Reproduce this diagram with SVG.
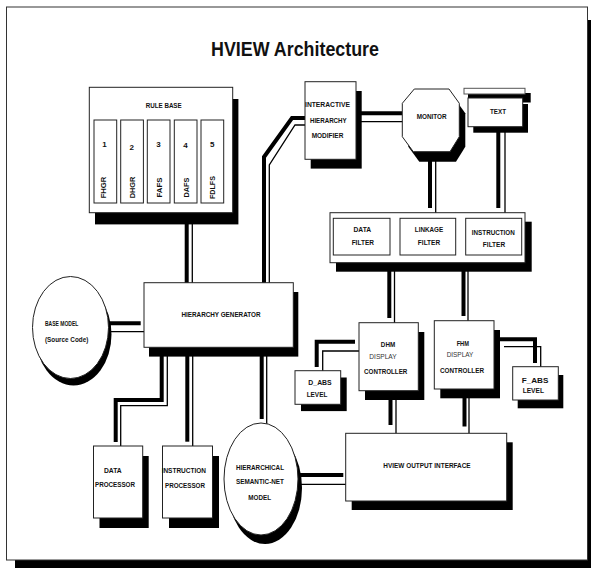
<svg xmlns="http://www.w3.org/2000/svg" width="591" height="568" viewBox="0 0 591 568">
<style>
.box{fill:#fff;stroke:#222;stroke-width:1}
.sh{fill:#000}
.t{font-family:"Liberation Sans Narrow","Liberation Sans",Arial,sans-serif;font-weight:bold;font-size:8px;fill:#111;text-anchor:middle}
.n{font-weight:normal;fill:#333}
.thick{fill:none;stroke:#000;stroke-width:4}
.thin{fill:none;stroke:#000;stroke-width:1.3}
</style>
<rect id="frame-shadow" x="15" y="20" width="581" height="553" fill="#000"/>
<rect id="frame" x="6.5" y="7" width="581" height="553" fill="#fff" stroke="#333" stroke-width="1"/>
<text x="295" y="56" class="t" style="font-size:20px" textLength="168" lengthAdjust="spacingAndGlyphs">HVIEW Architecture</text>

<g id="connectors">
  <line class="thick" x1="186.7" y1="212" x2="186.7" y2="283"/>
  <line class="thin" x1="192.3" y1="212" x2="192.3" y2="283"/>
  <polyline class="thick" points="305,118 292,118 264,157 264,283"/>
  <polyline class="thin" points="305,125 295,125 269.3,165 269.3,283"/>
  <line class="thick" x1="356" y1="113.3" x2="402" y2="113.3"/>
  <line class="thin" x1="356" y1="121.7" x2="403" y2="121.7"/>
  <line class="thick" x1="430" y1="151" x2="430" y2="208"/>
  <line class="thin" x1="435.7" y1="151" x2="435.7" y2="213"/>
  <line class="thick" x1="498.3" y1="127" x2="498.3" y2="208"/>
  <line class="thin" x1="505" y1="127" x2="505" y2="213"/>
  <line class="thick" x1="389.3" y1="262" x2="389.3" y2="318"/>
  <line class="thin" x1="394.5" y1="262" x2="394.5" y2="323"/>
  <line class="thick" x1="463.5" y1="262" x2="463.5" y2="316"/>
  <line class="thin" x1="468" y1="262" x2="468" y2="321"/>
  <polyline class="thick" points="355,341.7 316.7,341.7 316.7,367"/>
  <polyline class="thin" points="359,351 322.7,351 322.7,371"/>
  <polyline class="thick" points="494,339.3 535,339.3 535,363"/>
  <polyline class="thin" points="504,346.7 540.7,346.7 540.7,367"/>
  <line class="thick" x1="390.5" y1="398" x2="390.5" y2="425"/>
  <line class="thin" x1="396" y1="390" x2="396" y2="433.5"/>
  <line class="thick" x1="464.5" y1="396" x2="464.5" y2="426.5"/>
  <line class="thin" x1="469" y1="389" x2="469" y2="433.5"/>
  <line class="thick" x1="298" y1="475" x2="343.3" y2="475"/>
  <line class="thin" x1="298" y1="484.3" x2="346" y2="484.3"/>
  <line class="thick" x1="106" y1="323.3" x2="140.7" y2="323.3"/>
  <line class="thin" x1="106" y1="331.7" x2="144" y2="331.7"/>
  <polyline class="thick" points="161.7,347 161.7,400 115.7,400 115.7,442"/>
  <polyline class="thin" points="167.3,347 167.3,405.7 120.7,405.7 120.7,446"/>
  <line class="thick" x1="187.3" y1="347" x2="187.3" y2="441.7"/>
  <line class="thin" x1="192.7" y1="347" x2="192.7" y2="446"/>
  <line class="thick" x1="261.7" y1="347" x2="261.7" y2="419"/>
  <line class="thin" x1="266.7" y1="347" x2="266.7" y2="424"/>
</g>

<g id="rule-base">
  <rect class="sh" x="95" y="99" width="143.4" height="125.4"/>
  <rect class="box" x="89.3" y="87.3" width="143.4" height="125.4"/>
  <text x="163.7" y="108" class="t" textLength="36" lengthAdjust="spacingAndGlyphs">RULE BASE</text>
  <rect class="box" x="94" y="120" width="22.7" height="83"/>
  <rect class="box" x="120.7" y="120" width="22.7" height="83"/>
  <rect class="box" x="147.3" y="120" width="22.7" height="83"/>
  <rect class="box" x="174.3" y="120" width="22.7" height="83"/>
  <rect class="box" x="201" y="120" width="22.7" height="83"/>
  <text x="104.5" y="147" class="t">1</text>
  <text x="131.7" y="150" class="t">2</text>
  <text x="158.5" y="147" class="t">3</text>
  <text x="185.5" y="148" class="t">4</text>
  <text x="212.3" y="147" class="t">5</text>
  <text class="t" transform="translate(105.5,187.5) rotate(-90)" textLength="21.7" lengthAdjust="spacingAndGlyphs">FHGR</text>
  <text class="t" transform="translate(135,187.5) rotate(-90)" textLength="21.7" lengthAdjust="spacingAndGlyphs">DHGR</text>
  <text class="t" transform="translate(161.5,187.5) rotate(-90)" textLength="20" lengthAdjust="spacingAndGlyphs">FAFS</text>
  <text class="t" transform="translate(188.5,187.5) rotate(-90)" textLength="20" lengthAdjust="spacingAndGlyphs">DAFS</text>
  <text class="t" transform="translate(215,187.5) rotate(-90)" textLength="23" lengthAdjust="spacingAndGlyphs">FDLFS</text>
</g>

<g id="interactive-hierarchy-modifier">
  <rect class="sh" x="310.7" y="91" width="51" height="77.6"/>
  <rect class="box" x="305" y="81.7" width="51" height="77.6"/>
  <text x="327.5" y="107.3" class="t" textLength="45" lengthAdjust="spacingAndGlyphs">INTERACTIVE</text>
  <text x="328.3" y="123.3" class="t" textLength="36.7" lengthAdjust="spacingAndGlyphs">HIERARCHY</text>
  <text x="327.5" y="138.3" class="t" textLength="31.7" lengthAdjust="spacingAndGlyphs">MODIFIER</text>
</g>

<g id="monitor">
  <polygon class="sh" points="420.3,99 455,99 465.3,113.3 465.3,146.7 456,161.7 419.3,161.7 408.3,146.7 408.3,113.3"/>
  <polygon class="box" points="414.3,89 449,89 459.3,103.3 459.3,136.7 450,151.7 413.3,151.7 402.3,136.7 402.3,103.3"/>
  <text x="431.7" y="119" class="t" textLength="30" lengthAdjust="spacingAndGlyphs">MONITOR</text>
</g>

<g id="text">
  <rect class="sh" x="468" y="93" width="62.7" height="9.5"/>
  <rect x="464" y="88.3" width="61" height="5.7" fill="#fff" stroke="#555" stroke-width="1"/>
  <rect class="sh" x="473.3" y="104" width="54.7" height="28.7"/>
  <rect class="box" x="468" y="98" width="54.7" height="28.7"/>
  <text x="498" y="114.3" class="t" textLength="16" lengthAdjust="spacingAndGlyphs">TEXT</text>
</g>

<g id="filters">
  <rect class="sh" x="336" y="221.7" width="195.7" height="50"/>
  <rect class="box" x="330" y="212.7" width="195" height="50"/>
  <rect class="box" x="333.3" y="218.3" width="56.7" height="36.7"/>
  <rect class="box" x="400" y="218.3" width="55.7" height="36.7"/>
  <rect class="box" x="465.7" y="218.3" width="56" height="36.7"/>
  <text x="362.3" y="232.3" class="t" textLength="17.7" lengthAdjust="spacingAndGlyphs">DATA</text>
  <text x="362.8" y="245" class="t" textLength="22.3" lengthAdjust="spacingAndGlyphs">FILTER</text>
  <text x="429" y="232.3" class="t" textLength="28.3" lengthAdjust="spacingAndGlyphs">LINKAGE</text>
  <text x="429" y="245" class="t" textLength="22.3" lengthAdjust="spacingAndGlyphs">FILTER</text>
  <text x="493.3" y="235" class="t" textLength="43" lengthAdjust="spacingAndGlyphs">INSTRUCTION</text>
  <text x="494" y="246.7" class="t" textLength="22.3" lengthAdjust="spacingAndGlyphs">FILTER</text>
</g>

<g id="hierarchy-generator">
  <rect class="sh" x="149" y="292" width="149.3" height="64.6"/>
  <rect class="box" x="144" y="282.7" width="149.3" height="64.6"/>
  <text x="221" y="317.3" class="t" textLength="79" lengthAdjust="spacingAndGlyphs">HIERARCHY GENERATOR</text>
</g>

<g id="base-model">
  <ellipse cx="73.5" cy="334.5" rx="38" ry="51" fill="#000"/>
  <ellipse cx="70.5" cy="327.5" rx="38" ry="51" class="box"/>
  <text x="45" y="325.7" class="t" style="text-anchor:start" textLength="33.3" lengthAdjust="spacingAndGlyphs">BASE MODEL</text>
  <text x="45" y="342.3" class="t" style="text-anchor:start" textLength="43.3" lengthAdjust="spacingAndGlyphs">(Source Code)</text>
</g>

<g id="dhm-controller">
  <rect class="sh" x="365" y="332" width="59.3" height="68"/>
  <rect class="box" x="359" y="322.7" width="59.3" height="68"/>
  <text x="388" y="346.7" class="t" textLength="14.3" lengthAdjust="spacingAndGlyphs">DHM</text>
  <text x="383" y="359" class="t n" textLength="27.3" lengthAdjust="spacingAndGlyphs">DISPLAY</text>
  <text x="385.7" y="374.3" class="t" textLength="43.3" lengthAdjust="spacingAndGlyphs">CONTROLLER</text>
</g>

<g id="fhm-controller">
  <rect class="sh" x="440.3" y="330" width="59.7" height="68.3"/>
  <rect class="box" x="434.3" y="320.7" width="59.7" height="68.3"/>
  <text x="462.8" y="345.7" class="t" textLength="12.3" lengthAdjust="spacingAndGlyphs">FHM</text>
  <text x="460" y="356.7" class="t n" textLength="26.7" lengthAdjust="spacingAndGlyphs">DISPLAY</text>
  <text x="462" y="373.3" class="t" textLength="44" lengthAdjust="spacingAndGlyphs">CONTROLLER</text>
</g>

<g id="d-abs-level">
  <rect class="sh" x="301" y="377.5" width="45.7" height="33.6"/>
  <rect class="box" x="295" y="370.7" width="45.7" height="33.6"/>
  <text x="320" y="385" class="t" textLength="23.3" lengthAdjust="spacingAndGlyphs">D_ABS</text>
  <text x="317" y="396.7" class="t" textLength="20.7" lengthAdjust="spacingAndGlyphs">LEVEL</text>
</g>

<g id="f-abs-level">
  <rect class="sh" x="517.7" y="375" width="45.6" height="33.3"/>
  <rect class="box" x="512.7" y="366.7" width="45.6" height="33.3"/>
  <text x="535" y="382.7" class="t" textLength="26.7" lengthAdjust="spacingAndGlyphs">F_ABS</text>
  <text x="533.3" y="393.3" class="t" textLength="21.3" lengthAdjust="spacingAndGlyphs">LEVEL</text>
</g>

<g id="hview-output-interface">
  <rect class="sh" x="351.7" y="442.3" width="161" height="67.7"/>
  <rect class="box" x="345.7" y="433.3" width="161" height="67.7"/>
  <text x="427" y="468.3" class="t" textLength="87.3" lengthAdjust="spacingAndGlyphs">HVIEW OUTPUT INTERFACE</text>
</g>

<g id="data-processor">
  <rect class="sh" x="99.5" y="456" width="49.2" height="72"/>
  <rect class="box" x="93.5" y="446" width="49.2" height="72"/>
  <text x="112.8" y="472.7" class="t" textLength="17.7" lengthAdjust="spacingAndGlyphs">DATA</text>
  <text x="115" y="486.7" class="t" textLength="40" lengthAdjust="spacingAndGlyphs">PROCESSOR</text>
</g>

<g id="instruction-processor">
  <rect class="sh" x="169" y="456" width="50" height="72"/>
  <rect class="box" x="162.5" y="446" width="50" height="72"/>
  <text x="183.8" y="472.7" class="t" textLength="44.3" lengthAdjust="spacingAndGlyphs">INSTRUCTION</text>
  <text x="185" y="488.3" class="t" textLength="40" lengthAdjust="spacingAndGlyphs">PROCESSOR</text>
</g>

<g id="hierarchical-semantic-net-model">
  <ellipse cx="265" cy="488" rx="37" ry="56" fill="#000"/>
  <ellipse cx="261" cy="479" rx="37" ry="56" class="box"/>
  <text x="260" y="470" class="t" textLength="48" lengthAdjust="spacingAndGlyphs">HIERARCHICAL</text>
  <text x="260" y="484.3" class="t" textLength="48" lengthAdjust="spacingAndGlyphs">SEMANTIC-NET</text>
  <text x="259.7" y="500" class="t" textLength="22.7" lengthAdjust="spacingAndGlyphs">MODEL</text>
</g>
</svg>
